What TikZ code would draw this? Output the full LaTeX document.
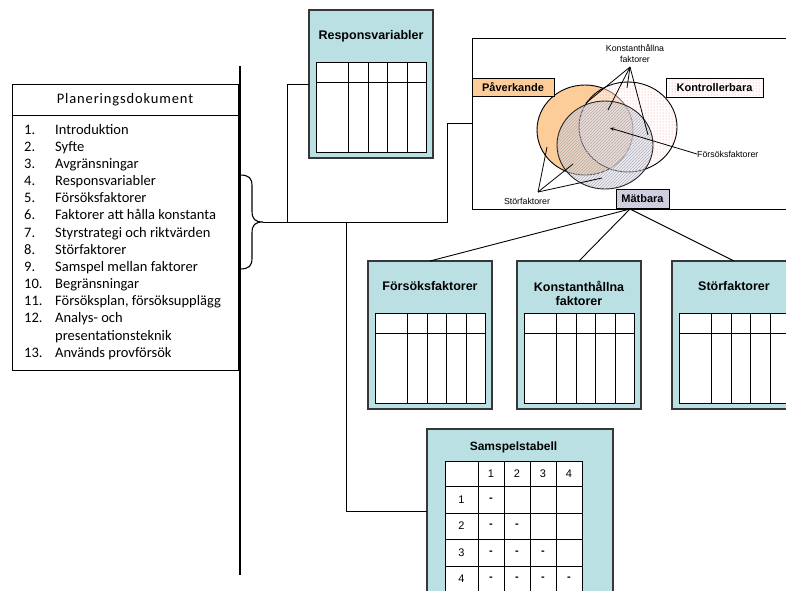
\documentclass[tikz,border=0pt]{standalone}
\usepackage{fontspec}
\setmainfont{Liberation Sans}
\newfontfamily\carlito{Carlito}
\usetikzlibrary{patterns,arrows.meta,calc}
\definecolor{teal1}{RGB}{187,224,227}
\definecolor{boxline}{RGB}{55,55,55}
\definecolor{orng}{RGB}{252,204,153}
\definecolor{lav}{RGB}{214,214,242}
\tikzset{
  tbox/.style={draw=boxline, line width=1.3pt, fill=teal1, minimum width=124pt, minimum height=148pt, inner sep=0pt, outer sep=0pt},
  btitle/.style={font=\bfseries\fontsize{12.5}{14.5}\selectfont, align=center, inner sep=0pt},
  tline/.style={draw=black, line width=0.9pt},
  conn/.style={draw=black, line width=0.9pt},
  lbl/.style={draw=black, line width=1pt, font=\bfseries\fontsize{11}{13}\selectfont, inner sep=0pt, outer sep=0pt},
  smalltxt/.style={font=\fontsize{8.8}{11}\selectfont, inner sep=0pt, align=center},
  digit/.style={font=\fontsize{11}{13}\selectfont, inner sep=0pt},
  thin/.style={draw=black, line width=0.8pt}
}
\newcommand\tblbox[4]{%
  \node[tbox, anchor=north west] (#1) at (#2,#3) {};
  \node[btitle, anchor=north] (#1-title) at (#2+62,#3+20) {#4};
  \filldraw[tline, fill=white] (#2+7,#3+52) rectangle (#2+117,#3+142);
  \draw[tline] (#2+7,#3+72) -- (#2+117,#3+72);
  \foreach \cx in {39,59,78,98}{\draw[tline] (#2+\cx,#3+52) -- (#2+\cx,#3+142);}
}
\begin{document}
\begin{tikzpicture}[x=1pt,y=-1pt]
\useasboundingbox (0,0) rectangle (786,590);
\clip (0,0) rectangle (786,590);
\fill[white] (0,0) rectangle (786,590);

% ---------- Planeringsdokument ----------
\node[draw=black, line width=0.9pt, anchor=north west, minimum width=226pt, minimum height=286pt, inner sep=0pt] (plan) at (12,84) {};
\draw[line width=0.9pt] ($(plan.north west)+(0,31)$) -- ($(plan.north east)+(0,31)$);
\node[inner sep=0pt, font=\carlito\fontsize{14.5}{17}\selectfont\addfontfeature{LetterSpace=6}] (plantitle) at (125,100) {Planeringsdokument};
\node[anchor=north west, inner sep=0pt, font=\carlito\fontsize{14.5}{17.15}\selectfont] (planlist) at (24,122) {%
\begin{tabular}{@{}p{31pt}@{}l@{}}
1. & Introduktion\\
2. & Syfte\\
3. & Avgränsningar\\
4. & Responsvariabler\\
5. & Försöksfaktorer\\
6. & Faktorer att hålla konstanta\\
7. & Styrstrategi och riktvärden\\
8. & Störfaktorer\\
9. & Samspel mellan faktorer\\
10. & Begränsningar\\
11. & Försöksplan, försöksupplägg\\
12. & Analys- och\\
 & presentationsteknik\\
13. & Används provförsök
\end{tabular}};

% vertical line
\draw[line width=1.6pt] (240,66) -- (240,575);

% brace
\draw[line width=1.1pt] (240,175) .. controls (249,175) and (252,178) .. (252,186) -- (252,211)
  .. controls (252,219) and (255,222) .. (263,222)
  .. controls (255,222) and (252,225) .. (252,233) -- (252,258)
  .. controls (252,266) and (249,269) .. (240,269);

% ---------- table boxes ----------
\tblbox{resp}{309}{10}{Responsvariabler}
\tblbox{ff}{368}{261}{Försöksfaktorer}
\tblbox{kf}{517}{261}{Konstanthållna\\faktorer}
\tblbox{sf}{672}{261}{Störfaktorer}

% ---------- Samspelstabell ----------
\node[draw=boxline, line width=1.3pt, fill=teal1, anchor=north west, minimum width=186pt, minimum height=164pt, inner sep=0pt, outer sep=0pt] (samsp) at (427,429) {};
\node[btitle, font=\bfseries\fontsize{12}{14}\selectfont] (samsp-title) at (513.5,447) {Samspelstabell};
\filldraw[tline, fill=white] (445,461) rectangle (582,600);
\foreach \cx in {478,504,530,556}{\draw[tline] (\cx,461) -- (\cx,600);}
\foreach \ry in {486,513,539,566,592}{\draw[tline] (445,\ry) -- (582,\ry);}
\foreach \i/\cx in {1/491,2/517,3/543,4/569}{\node[digit] (h\i) at (\cx,474) {\i};}
\foreach \i/\ry in {1/499.5,2/526,3/552.5,4/579}{\node[digit] (r\i) at (461.5,\ry) {\i};}
\foreach \i/\ry in {1/499.5,2/526,3/552.5,4/579}{
  \foreach \j/\cx in {1/491,2/517,3/543,4/569}{
    \ifnum\j>\i\else\node[digit] (d\i\j) at (\cx,\ry) {\textbf{-}};\fi
  }
}

% ---------- Venn box ----------
\node[draw=black, line width=1pt, anchor=north west, minimum width=340pt, minimum height=171pt, inner sep=0pt, outer sep=0pt] (venn) at (472,38) {};

% orange ellipse (Påverkande)
\filldraw[fill=orng, draw=black, line width=0.9pt] (585,130) ellipse [x radius=48, y radius=45];
% Kontrollerbara ellipse
\fill[white, fill opacity=0.45] (628,127) ellipse [x radius=49, y radius=45];
\fill[pattern=dots, pattern color=red!45] (628,127) ellipse [x radius=49, y radius=45];
\draw[black, line width=0.9pt] (628,127) ellipse [x radius=49, y radius=45];
% Mätbara ellipse
\fill[lav, fill opacity=0.4] (605,145) ellipse [x radius=48, y radius=44];
\fill[pattern=north east lines, pattern color=black!30, fill opacity=0.5] (605,145) ellipse [x radius=48, y radius=44];
\draw[black!85, line width=0.9pt] (605,145) ellipse [x radius=48, y radius=44];

% labels
\node[lbl, fill=orng, anchor=north west, minimum width=82pt, minimum height=18pt] (pav) at (472,78) {Påverkande};
\node[lbl, pattern=dots, pattern color=red!50, anchor=north west, minimum width=97pt, minimum height=19pt] (kon) at (666,78) {Kontrollerbara};
\node[lbl, preaction={fill=lav}, pattern=north east lines, pattern color=black!25, anchor=north west, minimum width=53pt, minimum height=19pt] (mat) at (616,189) {Mätbara};

% Konstanthållna faktorer pointers
\node[smalltxt, anchor=south] (khl) at (635,63) {Konstanthållna\\faktorer};
\coordinate (ka) at (630,67);
\coordinate (k1) at (586,103);
\coordinate (k2) at (608,110);
\coordinate (k3) at (627,88);
\coordinate (k4) at (648,135);
\foreach \k in {k1,k2,k3,k4}{\draw[thin] (ka) -- (\k);}

% Försöksfaktorer pointer
\node[smalltxt, anchor=west] (ffl) at (697,154) {Försöksfaktorer};
\coordinate (fp) at (610,128);
\draw[thin, -{Stealth[length=4pt,width=3.5pt]}] (ffl.west) -- (fp);

% Störfaktorer pointers
\node[smalltxt] (stl) at (527,201) {Störfaktorer};
\coordinate (sa) at (538,192);
\coordinate (s1) at (547,147);
\coordinate (s2) at (573,164);
\coordinate (s3) at (602,178);
\foreach \s in {s1,s2,s3}{\draw[thin] (sa) -- (\s);}

% Mätbara to the three boxes
\coordinate (mapex) at (630,209);
\draw[conn] (mapex) -- (ff.north);
\draw[conn] (mapex) -- (kf.north);
\draw[conn] (mapex) -- (sf.north);

% ---------- connectors from brace ----------
\coordinate (tip) at (263,222);
\coordinate (j1) at (287,222);
\coordinate (j2) at (346,222);
\coordinate (j3) at (447,222);
\draw[conn] (tip) -- (j3) |- (venn.west);
\draw[conn] (j1) |- (resp.west);
\draw[conn] (j2) |- (samsp.west);
\end{tikzpicture}
\end{document}
